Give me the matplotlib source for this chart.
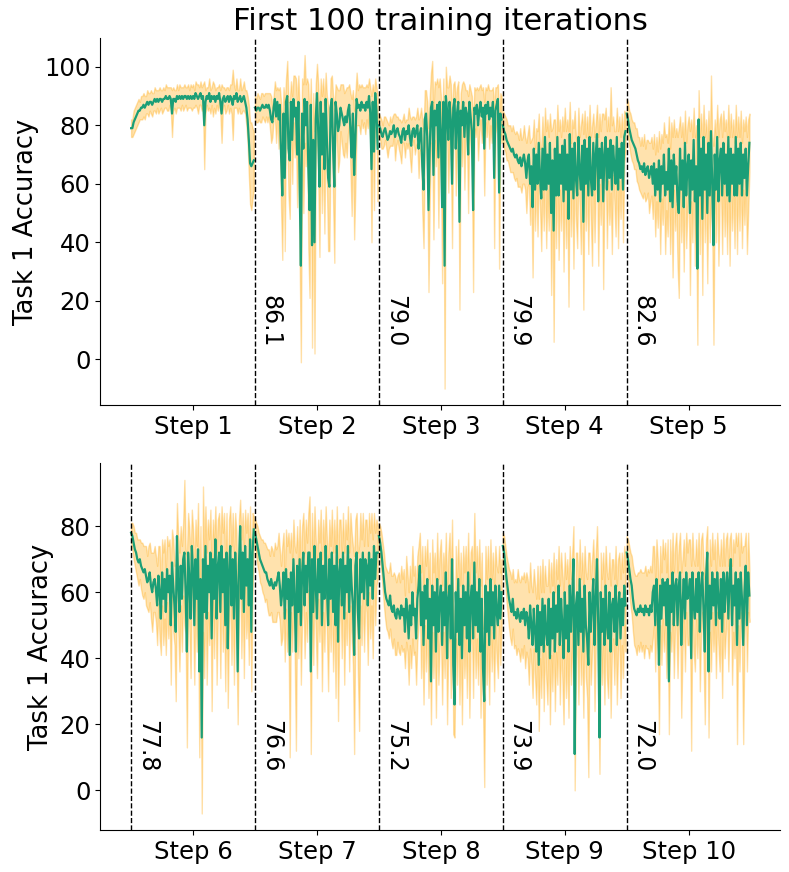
import numpy as np
import matplotlib
matplotlib.use("Agg")
import matplotlib.pyplot as plt
import matplotlib.transforms as mtransforms

# Mean accuracy and std of task 1 for the first 100 iterations of each step
step1_mean = [79, 79, 81, 82, 83, 84, 85, 85, 86, 86,
              87, 86, 87, 88, 87, 88, 88, 87, 88, 89,
              88, 89, 88, 89, 89, 88, 89, 89, 90, 89,
              89, 90, 89, 84, 89, 89, 88, 90, 89, 90,
              89, 90, 89, 90, 90, 89, 90, 89, 90, 89,
              90, 89, 91, 90, 89, 90, 91, 89, 90, 80,
              88, 90, 89, 91, 88, 90, 89, 90, 88, 90,
              89, 91, 88, 84, 89, 90, 88, 89, 90, 88,
              90, 89, 87, 90, 89, 91, 88, 89, 90, 88,
              89, 90, 88, 86, 82, 75, 67, 66, 67, 68]
step1_std = [3, 3, 4, 4, 4, 4, 4, 3, 4, 4,
             4, 4, 3, 4, 4, 3, 4, 4, 3, 4,
             4, 3, 4, 4, 3, 4, 4, 3, 4, 4,
             4, 3, 4, 8, 4, 3, 4, 4, 3, 4,
             4, 3, 4, 4, 3, 4, 4, 3, 4, 4,
             4, 3, 4, 4, 5, 3, 4, 4, 4, 15,
             4, 3, 4, 5, 4, 3, 6, 4, 4, 3,
             4, 3, 4, 10, 4, 3, 4, 4, 3, 4,
             4, 5, 12, 4, 3, 5, 4, 3, 6, 4,
             4, 5, 4, 6, 8, 12, 14, 15, 12, 10]

step2_mean = [86, 85, 86, 86, 85, 86, 87, 86, 86, 87,
              86, 87, 85, 82, 81, 86, 89, 83, 88, 82,
              87, 70, 56, 84, 62, 88, 90, 72, 68, 88,
              75, 89, 83, 86, 70, 88, 60, 32, 84, 72,
              89, 80, 88, 66, 51, 87, 39, 75, 40, 82,
              91, 78, 59, 88, 70, 84, 65, 89, 75, 62,
              59, 86, 89, 72, 59, 88, 84, 78, 80, 86,
              84, 82, 80, 83, 81, 85, 87, 78, 69, 84,
              63, 75, 89, 86, 87, 85, 88, 86, 87, 85,
              88, 86, 90, 84, 65, 88, 71, 91, 85, 72]
step2_std = [4, 4, 5, 4, 4, 5, 4, 4, 5, 4,
             5, 4, 6, 8, 5, 4, 6, 9, 5, 10,
             6, 18, 22, 9, 25, 8, 12, 16, 20, 7,
             15, 8, 14, 10, 18, 9, 25, 33, 12, 22,
             15, 14, 8, 28, 30, 9, 35, 16, 38, 12,
             10, 16, 24, 8, 20, 12, 22, 9, 15, 25,
             22, 10, 8, 18, 26, 6, 9, 14, 12, 8,
             10, 12, 11, 9, 12, 8, 7, 13, 20, 8,
             22, 16, 9, 6, 7, 8, 6, 7, 6, 8,
             6, 7, 6, 9, 25, 6, 20, 5, 8, 18]

step3_mean = [80, 79, 77, 76, 78, 79, 77, 75, 76, 78,
              77, 78, 80, 76, 78, 79, 77, 76, 74, 78,
              79, 75, 78, 77, 80, 76, 73, 78, 79, 76,
              78, 80, 72, 77, 79, 66, 58, 82, 84, 76,
              51, 72, 86, 88, 63, 85, 80, 87, 69, 88,
              78, 52, 88, 32, 90, 85, 75, 88, 82, 60,
              86, 89, 72, 84, 88, 47, 85, 80, 88, 76,
              86, 84, 70, 88, 83, 78, 51, 86, 84, 87,
              80, 85, 88, 83, 86, 72, 87, 84, 88, 82,
              86, 83, 88, 62, 85, 87, 89, 57, 84, 82]
step3_std = [4, 4, 5, 4, 5, 4, 5, 6, 4, 5,
             4, 5, 4, 8, 5, 4, 5, 6, 7, 4,
             5, 6, 4, 5, 6, 7, 9, 5, 4, 6,
             5, 6, 10, 6, 7, 16, 20, 10, 8, 12,
             28, 18, 12, 14, 22, 10, 14, 9, 24, 8,
             12, 26, 8, 42, 10, 8, 18, 9, 12, 22,
             8, 6, 16, 9, 7, 30, 6, 14, 7, 18,
             6, 8, 20, 6, 9, 12, 28, 7, 8, 6,
             12, 8, 6, 9, 7, 16, 6, 8, 6, 10,
             6, 9, 5, 24, 8, 6, 5, 26, 7, 8]

step4_mean = [80, 78, 77, 75, 74, 73, 72, 71, 72, 70,
              69, 70, 68, 67, 69, 66, 68, 70, 67, 62,
              68, 70, 60, 66, 52, 72, 58, 70, 60, 74,
              62, 55, 72, 58, 76, 58, 70, 60, 74, 50,
              68, 44, 72, 56, 76, 56, 70, 60, 73, 54,
              75, 58, 70, 48, 77, 58, 72, 55, 74, 62,
              56, 76, 64, 58, 73, 47, 75, 60, 72, 56,
              76, 62, 56, 74, 58, 70, 77, 54, 72, 62,
              74, 54, 70, 76, 58, 72, 62, 75, 58, 73,
              66, 60, 76, 58, 72, 62, 74, 58, 76, 78]
step4_std = [5, 6, 6, 7, 6, 7, 8, 7, 8, 8,
             8, 8, 9, 8, 10, 9, 8, 10, 9, 12,
             9, 10, 14, 9, 24, 10, 14, 9, 18, 10,
             10, 18, 11, 14, 10, 20, 12, 16, 10, 28,
             11, 38, 10, 18, 11, 22, 12, 16, 10, 24,
             11, 20, 12, 30, 11, 16, 10, 24, 11, 14,
             18, 10, 12, 22, 11, 30, 10, 16, 11, 20,
             11, 14, 24, 10, 18, 11, 10, 22, 12, 16,
             10, 30, 12, 10, 20, 11, 16, 18, 22, 10,
             12, 18, 10, 20, 11, 14, 10, 18, 9, 6]

step5_mean = [84, 82, 79, 77, 75, 74, 73, 72, 70, 68,
              67, 65, 66, 64, 67, 63, 65, 66, 62, 64,
              66, 60, 67, 56, 65, 58, 68, 54, 66, 60,
              70, 56, 64, 58, 72, 54, 68, 52, 70, 60,
              66, 54, 50, 72, 58, 68, 52, 74, 56, 66,
              70, 50, 68, 58, 75, 54, 66, 31, 82, 56,
              72, 48, 76, 58, 70, 50, 74, 56, 78, 60,
              39, 70, 58, 76, 54, 68, 72, 56, 74, 60,
              70, 56, 76, 54, 72, 60, 70, 56, 76, 56,
              72, 60, 74, 56, 70, 62, 72, 56, 66, 74]
step5_std = [5, 6, 6, 7, 7, 7, 8, 7, 9, 8,
             9, 8, 10, 9, 10, 9, 10, 9, 12, 10,
             10, 12, 10, 14, 11, 13, 10, 18, 11, 14,
             11, 20, 13, 16, 11, 18, 13, 24, 12, 16,
             13, 22, 29, 11, 18, 13, 22, 11, 18, 14,
             13, 28, 14, 18, 11, 22, 14, 26, 10, 20,
             12, 26, 11, 18, 12, 24, 11, 16, 19, 16,
             34, 12, 18, 11, 22, 14, 12, 20, 11, 18,
             12, 20, 11, 22, 12, 16, 12, 18, 11, 20,
             11, 16, 11, 18, 12, 16, 11, 20, 16, 10]

step6_mean = [78, 77, 75, 73, 72, 70, 69, 70, 68, 67,
              66, 67, 65, 63, 64, 66, 62, 60, 63, 64,
              61, 56, 65, 60, 52, 66, 58, 64, 54, 67,
              60, 65, 50, 69, 62, 56, 48, 77, 63, 54,
              68, 58, 70, 72, 60, 42, 72, 64, 52, 74,
              66, 50, 70, 58, 73, 36, 64, 16, 70, 54,
              74, 52, 68, 60, 72, 46, 70, 58, 76, 52,
              68, 72, 54, 74, 60, 70, 50, 72, 43, 66,
              74, 56, 70, 52, 72, 62, 36, 68, 80, 58,
              72, 54, 74, 62, 70, 56, 76, 48, 72, 79]
step6_std = [3, 4, 5, 5, 6, 6, 7, 6, 7, 8,
             8, 7, 9, 8, 10, 9, 10, 12, 9, 10,
             10, 12, 9, 14, 11, 10, 14, 12, 13, 10,
             14, 11, 18, 10, 14, 12, 21, 10, 14, 18,
             12, 16, 11, 22, 13, 29, 12, 15, 18, 11,
             13, 18, 12, 16, 14, 26, 16, 23, 22, 20,
             12, 20, 14, 16, 13, 22, 12, 18, 10, 20,
             14, 12, 20, 12, 18, 14, 20, 12, 18, 16,
             12, 18, 14, 20, 12, 16, 16, 14, 8, 18,
             12, 20, 11, 16, 14, 18, 10, 18, 12, 4]

step7_mean = [78, 76, 74, 72, 70, 69, 68, 67, 66, 66,
              64, 63, 62, 64, 62, 61, 63, 62, 64, 66,
              62, 56, 60, 66, 52, 67, 58, 64, 41, 66,
              56, 70, 58, 42, 68, 54, 70, 50, 66, 72,
              56, 68, 60, 72, 72, 36, 70, 54, 74, 62,
              52, 70, 60, 72, 50, 68, 58, 74, 62, 50,
              70, 58, 72, 54, 68, 50, 74, 45, 66, 70,
              56, 72, 52, 68, 60, 74, 54, 70, 62, 56,
              41, 68, 72, 54, 46, 70, 60, 72, 58, 70,
              68, 56, 72, 62, 70, 58, 74, 64, 72, 72]
step7_std = [4, 5, 6, 6, 7, 7, 8, 8, 9, 8,
             9, 10, 9, 10, 11, 10, 12, 11, 10, 12,
             11, 12, 14, 12, 13, 12, 16, 14, 31, 12,
             14, 12, 16, 30, 12, 14, 12, 18, 14, 12,
             16, 14, 15, 12, 17, 25, 14, 16, 12, 14,
             18, 12, 15, 13, 20, 14, 16, 12, 14, 20,
             12, 16, 13, 18, 14, 22, 12, 24, 16, 12,
             16, 12, 20, 14, 16, 12, 18, 14, 16, 18,
             30, 14, 12, 18, 28, 14, 16, 12, 16, 12,
             14, 18, 12, 16, 14, 18, 10, 14, 10, 8]

step8_mean = [77, 75, 72, 68, 64, 60, 58, 57, 56, 59,
              55, 54, 56, 53, 52, 55, 54, 52, 56, 53,
              55, 48, 58, 54, 46, 56, 50, 60, 53, 55,
              46, 58, 62, 68, 50, 60, 44, 62, 52, 64,
              46, 58, 33, 62, 50, 60, 42, 64, 48, 58,
              62, 44, 60, 50, 66, 40, 58, 62, 46, 70,
              38, 26, 60, 48, 64, 44, 58, 40, 62, 50,
              60, 46, 66, 42, 58, 62, 46, 69, 50, 60,
              48, 64, 42, 58, 37, 27, 62, 48, 60, 44,
              64, 50, 60, 46, 62, 54, 50, 62, 52, 60]
step8_std = [4, 5, 6, 7, 8, 8, 9, 9, 10, 10,
             10, 11, 10, 12, 11, 10, 12, 11, 12, 11,
             12, 11, 13, 12, 14, 12, 13, 14, 12, 13,
             14, 13, 12, 10, 16, 14, 18, 12, 16, 12,
             18, 14, 13, 14, 16, 12, 20, 14, 16, 14,
             14, 18, 12, 16, 12, 20, 14, 16, 18, 12,
             21, 10, 14, 16, 12, 18, 14, 20, 12, 16,
             14, 18, 12, 20, 14, 12, 18, 15, 16, 14,
             16, 12, 20, 14, 12, 26, 12, 16, 14, 18,
             12, 14, 12, 16, 12, 14, 16, 12, 14, 10]

step9_mean = [74, 72, 68, 64, 61, 58, 56, 54, 58, 53,
              54, 52, 55, 53, 51, 54, 52, 55, 50, 54,
              52, 46, 56, 50, 44, 55, 48, 42, 56, 38,
              54, 44, 58, 42, 56, 48, 44, 58, 40, 55,
              46, 60, 42, 56, 48, 62, 44, 58, 50, 40,
              60, 46, 56, 42, 62, 48, 58, 70, 11, 56,
              60, 44, 64, 48, 58, 42, 62, 50, 46, 38,
              60, 48, 56, 64, 44, 58, 70, 50, 16, 60,
              48, 58, 44, 62, 50, 46, 60, 42, 56, 58,
              48, 62, 44, 56, 60, 46, 58, 50, 62, 56]
step9_std = [4, 5, 6, 7, 8, 9, 10, 10, 9, 10,
             10, 11, 12, 11, 12, 11, 12, 11, 13, 12,
             12, 14, 13, 12, 16, 12, 14, 16, 12, 20,
             14, 16, 12, 18, 12, 14, 18, 12, 20, 14,
             16, 12, 18, 14, 16, 12, 18, 14, 16, 20,
             12, 18, 14, 20, 12, 16, 14, 10, 11, 16,
             12, 18, 12, 16, 14, 20, 12, 16, 18, 34,
             12, 16, 14, 12, 20, 14, 10, 16, 11, 12,
             16, 14, 18, 12, 16, 18, 12, 20, 14, 12,
             16, 12, 18, 14, 12, 18, 14, 16, 12, 14]

step10_mean = [72, 70, 67, 64, 62, 58, 55, 54, 53, 55,
               54, 56, 54, 55, 53, 56, 54, 55, 53, 56,
               54, 60, 62, 50, 64, 56, 38, 62, 52, 64,
               56, 63, 50, 64, 33, 62, 54, 66, 50, 62,
               64, 50, 62, 66, 44, 56, 64, 52, 66, 58,
               60, 64, 40, 66, 56, 52, 64, 54, 66, 48,
               62, 66, 54, 42, 64, 72, 36, 62, 52, 66,
               56, 64, 50, 66, 58, 52, 64, 48, 66, 54,
               62, 66, 52, 64, 70, 50, 62, 56, 66, 44,
               64, 52, 66, 58, 44, 60, 68, 50, 66, 59]
step10_std = [5, 6, 7, 8, 9, 10, 11, 11, 12, 11,
              12, 11, 12, 11, 13, 12, 11, 12, 13, 12,
              12, 14, 12, 14, 12, 14, 21, 12, 14, 12,
              14, 12, 16, 12, 16, 14, 12, 12, 16, 12,
              14, 16, 12, 12, 22, 14, 12, 16, 12, 14,
              16, 12, 28, 12, 14, 16, 12, 14, 12, 18,
              14, 12, 14, 22, 12, 8, 20, 14, 16, 12,
              14, 12, 16, 12, 14, 16, 12, 20, 12, 14,
              14, 12, 16, 12, 8, 18, 14, 16, 12, 30,
              14, 16, 12, 14, 30, 14, 10, 14, 12, 8]

top_means = [step1_mean, step2_mean, step3_mean, step4_mean, step5_mean]
top_stds = [step1_std, step2_std, step3_std, step4_std, step5_std]
bottom_means = [step6_mean, step7_mean, step8_mean, step9_mean, step10_mean]
bottom_stds = [step6_std, step7_std, step8_std, step9_std, step10_std]

# accuracy reached at the start of each step (written next to the dashed lines)
top_marks = [100, 200, 300, 400]
top_mark_labels = ["86.1", "79.0", "79.9", "82.6"]
bottom_marks = [0, 100, 200, 300, 400]
bottom_mark_labels = ["77.8", "76.6", "75.2", "73.9", "72.0"]

top_steps = ["Step 1", "Step 2", "Step 3", "Step 4", "Step 5"]
bottom_steps = ["Step 6", "Step 7", "Step 8", "Step 9", "Step 10"]

ITERS = 100
GREEN = "#1b9e77"


def draw(ax, means, stds, marks, mark_labels, steps):
    for k, (m, s) in enumerate(zip(means, stds)):
        m = np.array(m, dtype=float)
        s = np.array(s, dtype=float)
        x = k * ITERS + np.arange(len(m))
        ax.fill_between(x, m - s, m + s, color="orange", alpha=0.32)
        ax.plot(x, m, color=GREEN, lw=1.6)
    trans = mtransforms.blended_transform_factory(ax.transData, ax.transAxes)
    for xm, lab in zip(marks, mark_labels):
        ax.axvline(xm, color="black", ls="--", lw=1)
        ax.text(xm + 3, 0.3, lab, transform=trans, rotation=270,
                ha="left", va="top", fontsize=17)
    ax.set_xticks([k * ITERS + ITERS / 2 for k in range(len(steps))])
    ax.set_xticklabels(steps)
    ax.tick_params(labelsize=17.5)
    ax.set_ylabel("Task 1 Accuracy", fontsize=18.5)
    ax.spines["top"].set_visible(False)
    ax.spines["right"].set_visible(False)


fig, (ax1, ax2) = plt.subplots(2, 1, figsize=(7.89, 8.72), dpi=100)
plt.subplots_adjust(left=0.127, right=0.989, top=0.956, bottom=0.048, hspace=0.158)

draw(ax1, top_means, top_stds, top_marks, top_mark_labels, top_steps)
draw(ax2, bottom_means, bottom_stds, bottom_marks, bottom_mark_labels, bottom_steps)
ax1.set_title("First 100 training iterations", fontsize=22)

plt.savefig("out.png")
plt.close()
